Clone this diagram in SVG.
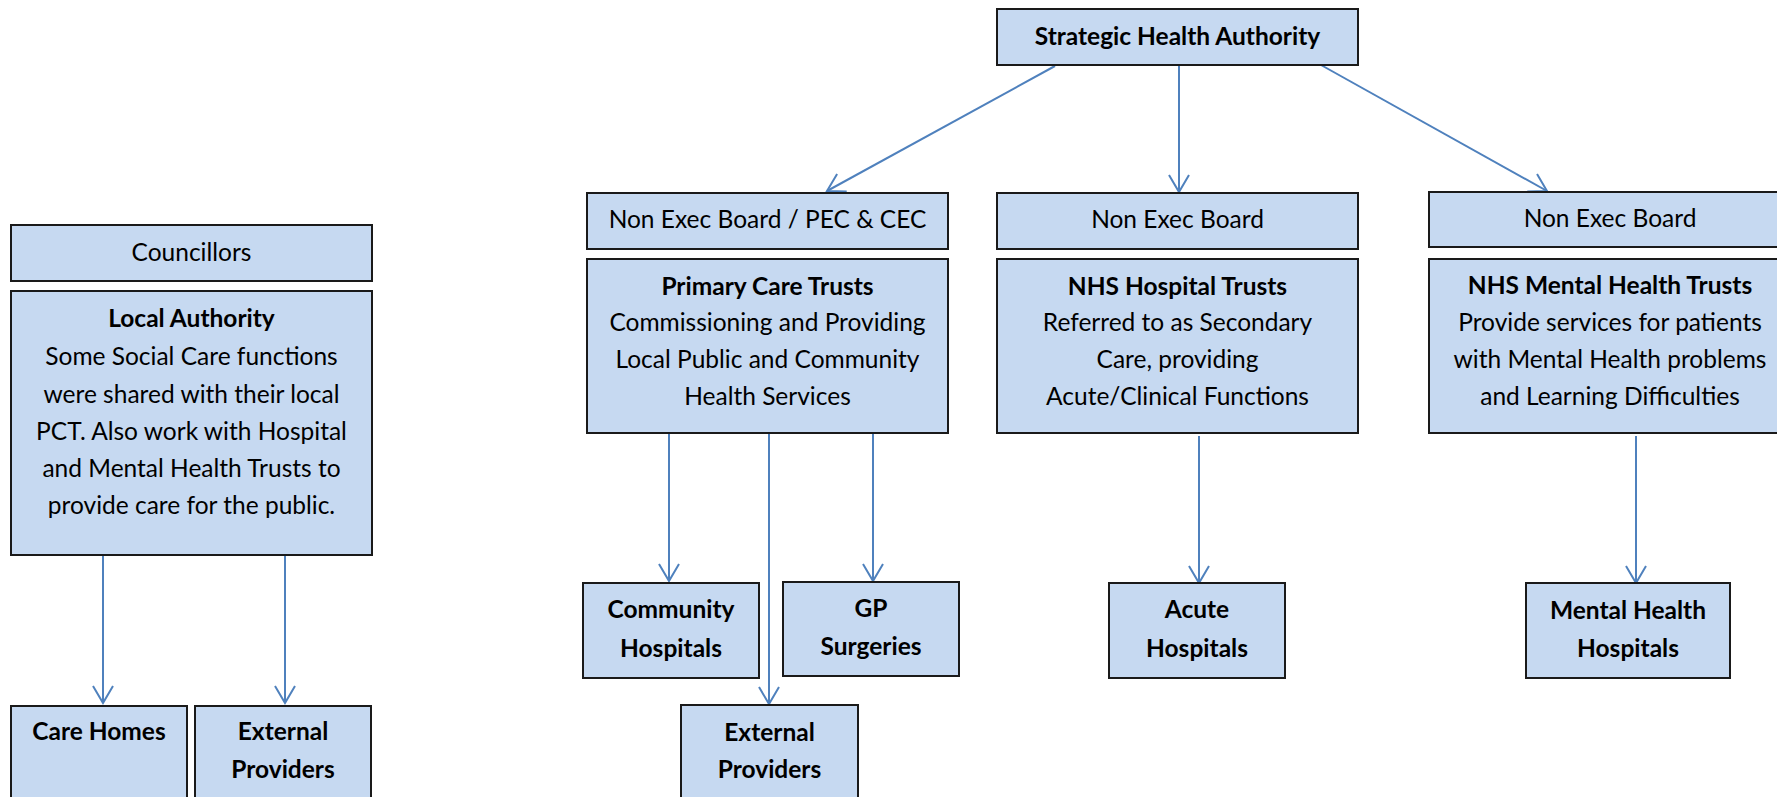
<svg xmlns="http://www.w3.org/2000/svg" width="1777" height="797" viewBox="0 0 1777 797">
<style>
.box{fill:#c6d9f1;stroke:#1a1a1a;stroke-width:2}
.t{font-family:Lato,"Open Sans","Liberation Sans",sans-serif;font-size:24.5px;fill:#000;text-anchor:middle}
.b{font-weight:bold}
.c{fill:none;stroke:#4f81bd;stroke-width:2;marker-end:url(#ah)}
</style>
<defs>
<marker id="ah" markerUnits="userSpaceOnUse" markerWidth="24" markerHeight="24" viewBox="-20 -12 24 24" refX="0" refY="0" orient="auto">
<path d="M-17,-10 L0,0 L-17,10" fill="none" stroke="#4f81bd" stroke-width="2"/>
</marker>
</defs>
<rect width="1777" height="797" fill="#fff"/>
<g id="connectors">
<line class="c" x1="103" y1="555" x2="103" y2="703"/>
<line class="c" x1="285" y1="555" x2="285" y2="703"/>
<line class="c" x1="1055" y1="66" x2="827" y2="191"/>
<line class="c" x1="1179" y1="65" x2="1179" y2="192"/>
<line class="c" x1="1321" y1="65" x2="1547" y2="191"/>
<line class="c" x1="669" y1="433" x2="669" y2="581"/>
<line class="c" x1="769" y1="433" x2="769" y2="704"/>
<line class="c" x1="873" y1="433" x2="873" y2="581"/>
<line class="c" x1="1199" y1="436" x2="1199" y2="583"/>
<line class="c" x1="1636" y1="436" x2="1636" y2="583"/>
</g>
<g id="sha"><rect class="box" x="997" y="9" width="361" height="56"/><text class="t b" x="1177.5" y="45">Strategic Health Authority</text></g>
<g id="councillors"><rect class="box" x="11" y="225" width="361" height="56"/><text class="t" x="191.5" y="261">Councillors</text></g>
<g id="local-authority"><rect class="box" x="11" y="291" width="361" height="264"/>
<text class="t b" x="191.5" y="327">Local Authority</text>
<text class="t" x="191.5" y="365">Some Social Care functions</text>
<text class="t" x="191.5" y="403">were shared with their local</text>
<text class="t" x="191.5" y="440">PCT. Also work with Hospital</text>
<text class="t" x="191.5" y="477">and Mental Health Trusts to</text>
<text class="t" x="191.5" y="514">provide care for the public.</text></g>
<g id="care-homes"><rect class="box" x="11" y="706" width="176" height="110"/><text class="t b" x="99" y="740">Care Homes</text></g>
<g id="ext-left"><rect class="box" x="195" y="706" width="176" height="110"/><text class="t b" x="283" y="740">External</text><text class="t b" x="283" y="778">Providers</text></g>
<g id="neb-pec"><rect class="box" x="587" y="193" width="361" height="56"/><text class="t" x="767.5" y="228">Non Exec Board / PEC &amp; CEC</text></g>
<g id="pct"><rect class="box" x="587" y="259" width="361" height="174"/>
<text class="t b" x="767.5" y="295">Primary Care Trusts</text>
<text class="t" x="767.5" y="331">Commissioning and Providing</text>
<text class="t" x="767.5" y="368">Local Public and Community</text>
<text class="t" x="767.5" y="405">Health Services</text></g>
<g id="neb-mid"><rect class="box" x="997" y="193" width="361" height="56"/><text class="t" x="1177.5" y="228">Non Exec Board</text></g>
<g id="nht"><rect class="box" x="997" y="259" width="361" height="174"/>
<text class="t b" x="1177.5" y="295">NHS Hospital Trusts</text>
<text class="t" x="1177.5" y="331">Referred to as Secondary</text>
<text class="t" x="1177.5" y="368">Care, providing</text>
<text class="t" x="1177.5" y="405">Acute/Clinical Functions</text></g>
<g id="neb-right"><rect class="box" x="1429" y="192" width="362" height="55"/><text class="t" x="1610" y="227">Non Exec Board</text></g>
<g id="mht"><rect class="box" x="1429" y="259" width="362" height="174"/>
<text class="t b" x="1610" y="294">NHS Mental Health Trusts</text>
<text class="t" x="1610" y="331">Provide services for patients</text>
<text class="t" x="1610" y="368">with Mental Health problems</text>
<text class="t" x="1610" y="405">and Learning Difficulties</text></g>
<g id="community"><rect class="box" x="583" y="583" width="176" height="95"/><text class="t b" x="671" y="618">Community</text><text class="t b" x="671" y="657">Hospitals</text></g>
<g id="gp"><rect class="box" x="783" y="582" width="176" height="94"/><text class="t b" x="871" y="617">GP</text><text class="t b" x="871" y="655">Surgeries</text></g>
<g id="ext-mid"><rect class="box" x="681" y="705" width="177" height="110"/><text class="t b" x="769.5" y="741">External</text><text class="t b" x="769.5" y="778">Providers</text></g>
<g id="acute"><rect class="box" x="1109" y="583" width="176" height="95"/><text class="t b" x="1197" y="618">Acute</text><text class="t b" x="1197" y="657">Hospitals</text></g>
<g id="mental"><rect class="box" x="1526" y="583" width="204" height="95"/><text class="t b" x="1628" y="619">Mental Health</text><text class="t b" x="1628" y="657">Hospitals</text></g>
</svg>
